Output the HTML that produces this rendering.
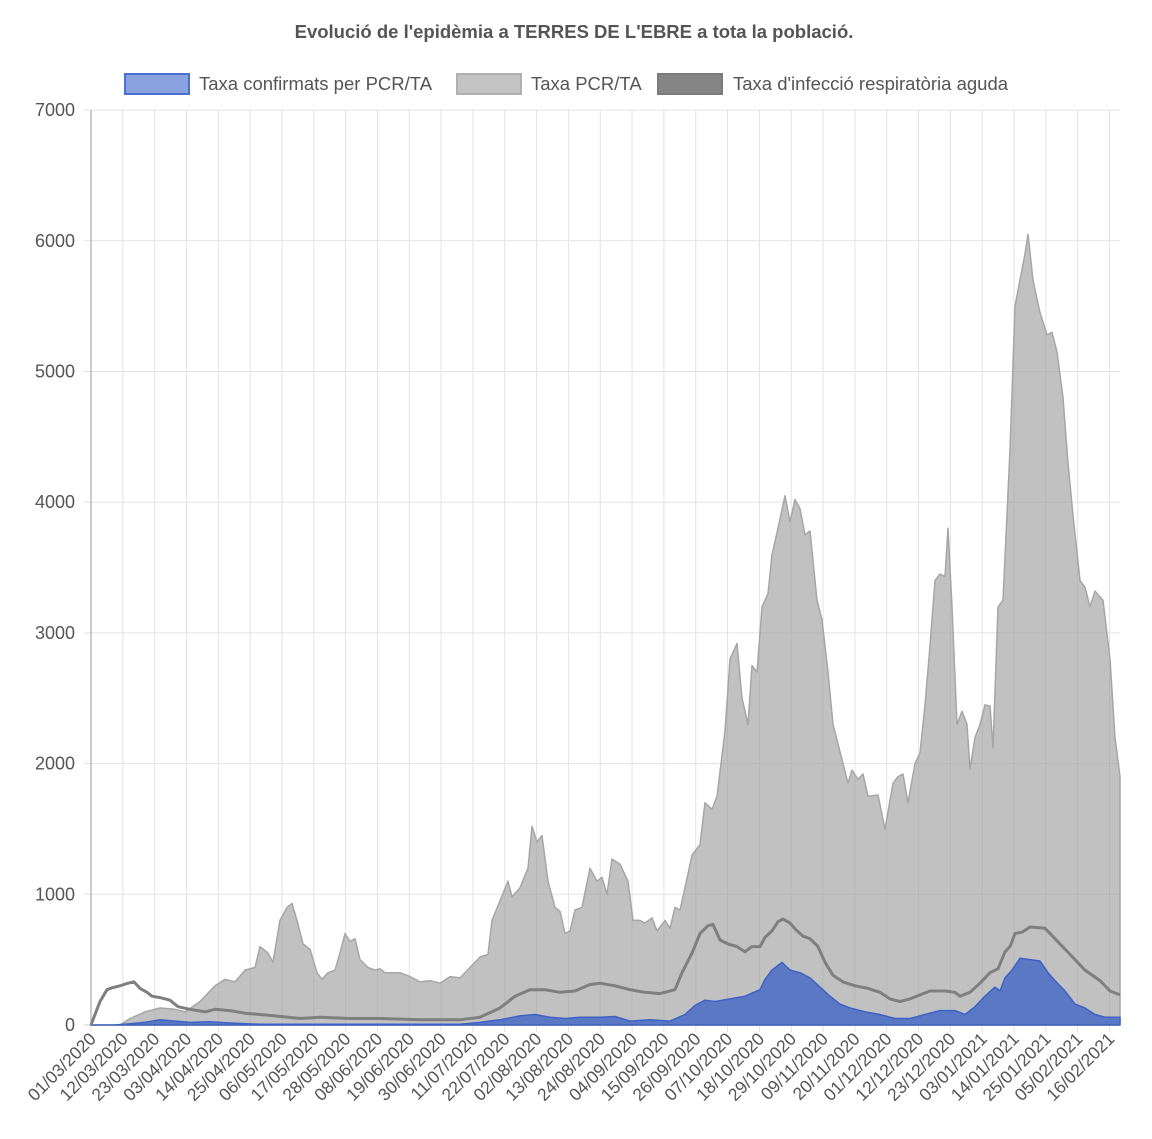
<!DOCTYPE html>
<html><head><meta charset="utf-8"><style>
body{margin:0;background:#fff;}
svg text{font-family:"Liberation Sans",sans-serif;fill:#555;}
</style></head><body>
<svg id="s" width="1152" height="1134" xmlns="http://www.w3.org/2000/svg">
<text x="574" y="38" text-anchor="middle" font-size="18.5" font-weight="bold">Evolució de l'epidèmia a TERRES DE L'EBRE a tota la població.</text>
<rect x="125" y="74" width="64" height="20" fill="#8aa2e0" stroke="#4d6fd0" stroke-width="2"/>
<text x="199" y="90" font-size="18.5">Taxa confirmats per PCR/TA</text>
<rect x="457" y="74" width="64" height="20" fill="#c4c4c4" stroke="#b0b0b0" stroke-width="2"/>
<text x="531" y="90" font-size="18.5">Taxa PCR/TA</text>
<rect x="658" y="74" width="64" height="20" fill="#858585" stroke="#7a7a7a" stroke-width="2"/>
<text x="733" y="90" font-size="18.5">Taxa d'infecció respiratòria aguda</text>
<g id="grid"></g>
<g id="data"></g>
</svg>
<script>
var s=document.getElementById('grid'),d=document.getElementById('data'),NS='http://www.w3.org/2000/svg';
function el(p,t,a,txt){var e=document.createElementNS(NS,t);for(var k in a)e.setAttribute(k,a[k]);if(txt)e.textContent=txt;p.appendChild(e);return e;}
function Y(v){return 1025-v*0.1307;}
for(var i=0;i<=7;i++){var y=Y(i*1000);el(s,'line',{x1:84,x2:1120,y1:y,y2:y,stroke:'#e3e3e3','stroke-width':1});el(s,'text',{x:75,y:y+6,'text-anchor':'end','font-size':18},String(i*1000));}
var labels=["01/03/2020","12/03/2020","23/03/2020","03/04/2020","14/04/2020","25/04/2020","06/05/2020","17/05/2020","28/05/2020","08/06/2020","19/06/2020","30/06/2020","11/07/2020","22/07/2020","02/08/2020","13/08/2020","24/08/2020","04/09/2020","15/09/2020","26/09/2020","07/10/2020","18/10/2020","29/10/2020","09/11/2020","20/11/2020","01/12/2020","12/12/2020","23/12/2020","03/01/2021","14/01/2021","25/01/2021","05/02/2021","16/02/2021"];
for(var i=0;i<labels.length;i++){var x=91+i*11*2.8935;el(s,'line',{x1:x,x2:x,y1:110,y2:1032,stroke:'#e3e3e3','stroke-width':1});
el(s,'text',{x:0,y:0,'text-anchor':'end','font-size':17.5,transform:'translate('+(x+6)+',1040) rotate(-45)'},labels[i]);}
el(s,'line',{x1:91,x2:91,y1:110,y2:1025,stroke:'#999','stroke-width':1});
el(s,'line',{x1:84,x2:1120,y1:1025,y2:1025,stroke:'#ccc','stroke-width':1});
function P(a){var r='';for(var i=0;i<a.length;i+=2)r+=(i?'L':'M')+a[i]+','+Y(a[i+1]).toFixed(1);return r;}
var g=[91,0,120,0,130,50,145,100,160,130,175,120,185,100,200,180,215,300,225,350,235,330,245,420,255,440,260,600,268,550,273,480,280,800,287,900,292,930,297,800,303,620,310,580,317,400,322,350,328,400,335,420,340,550,345,700,350,640,355,660,360,500,368,440,375,420,380,430,385,400,400,400,410,370,420,330,430,340,440,320,450,370,460,360,470,440,480,520,488,540,492,800,500,950,508,1100,512,980,520,1050,528,1200,532,1520,537,1400,542,1450,548,1100,555,900,560,870,565,700,570,720,575,880,582,900,590,1200,597,1100,602,1130,607,1000,612,1270,620,1230,628,1100,633,800,640,800,645,780,652,820,657,720,665,800,670,740,675,900,680,880,685,1050,692,1300,700,1380,705,1700,712,1650,717,1750,725,2250,730,2800,737,2920,742,2500,748,2300,752,2750,757,2700,762,3200,768,3300,772,3600,778,3800,785,4050,790,3850,795,4020,800,3950,805,3750,810,3780,817,3250,822,3100,828,2700,833,2300,838,2150,843,2000,848,1850,852,1950,858,1880,863,1920,868,1750,878,1760,885,1500,893,1850,898,1900,903,1920,908,1700,915,2000,920,2080,925,2450,930,2900,935,3400,940,3450,945,3430,948,3800,952,3200,957,2300,962,2400,967,2300,970,1960,975,2200,980,2300,985,2450,990,2440,993,2120,998,3200,1003,3250,1010,4400,1015,5500,1020,5700,1025,5900,1028,6050,1033,5700,1040,5450,1047,5280,1052,5300,1057,5150,1063,4800,1068,4300,1073,3900,1080,3400,1085,3350,1090,3200,1095,3320,1103,3250,1110,2800,1115,2200,1120,1900];
var b=[91,0,115,0,130,10,145,20,160,40,175,30,190,20,210,25,230,15,260,5,460,5,480,20,500,40,520,70,535,80,550,60,565,50,580,60,600,60,615,65,630,30,650,40,670,30,685,80,695,150,705,190,715,180,730,200,745,220,760,270,765,350,772,420,782,480,790,420,800,400,810,360,820,290,830,220,840,160,850,130,865,100,880,80,895,50,910,50,925,80,940,110,955,110,965,80,975,140,985,220,995,290,1000,260,1005,360,1012,420,1020,510,1030,500,1040,490,1048,400,1055,340,1065,260,1075,160,1085,130,1095,80,1105,60,1120,60];
var r=[91,0,100,180,107,270,112,285,120,300,128,320,134,330,140,280,147,250,152,220,160,210,170,190,178,140,190,120,205,100,215,120,230,110,245,90,260,80,275,70,300,50,320,60,350,50,380,50,420,40,460,40,480,60,500,130,515,220,530,270,545,270,560,250,575,260,590,310,600,320,615,300,630,270,645,250,660,240,675,270,682,400,692,550,700,700,708,760,713,770,720,650,728,620,737,600,745,560,752,600,760,600,765,670,772,720,778,790,783,810,790,780,797,720,803,680,810,660,818,600,825,480,833,380,843,330,855,300,868,280,880,250,890,200,900,180,910,200,920,230,930,260,945,260,955,250,960,220,970,250,980,320,990,400,998,430,1005,560,1010,600,1015,700,1022,710,1030,750,1045,740,1055,660,1070,540,1085,420,1100,340,1110,260,1120,230];
el(d,'path',{d:P(g)+'L1120,1025L91,1025Z',fill:'rgba(160,160,160,0.65)',stroke:'#a6a6a6','stroke-width':1.5,'stroke-linejoin':'round'});
el(d,'path',{d:P(b)+'L1120,1025L91,1025Z',fill:'#5a78c4',stroke:'#3e62c4','stroke-width':1.5,'stroke-linejoin':'round'});
el(d,'path',{d:P(r),fill:'none',stroke:'#7f7f7f','stroke-width':3,'stroke-linejoin':'round'});
</script>
</body></html>
